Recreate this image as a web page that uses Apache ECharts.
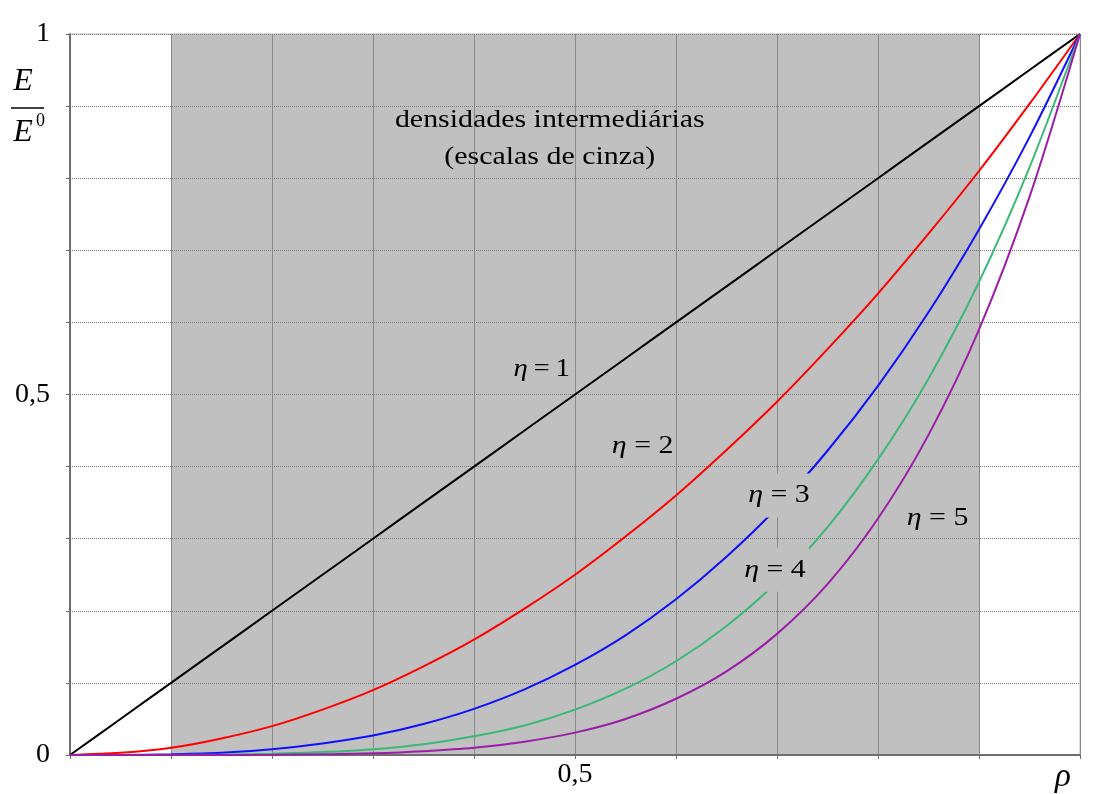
<!DOCTYPE html>
<html><head><meta charset="utf-8">
<script src="https://cdn.jsdelivr.net/npm/echarts@6/dist/echarts.min.js"></script>
<style>html,body{margin:0;padding:0;background:#fff}#c{width:1099px;height:794px}</style>
</head><body><div id="c"></div>
<script>
// ---- data ----
const rho  = [0,0.05,0.1,0.15,0.2,0.25,0.3,0.35,0.4,0.45,0.5,0.55,0.6,0.65,0.7,0.75,0.8,0.85,0.9,0.95,1];
const eta1 = [0,0.05,0.1,0.15,0.2,0.25,0.3,0.35,0.4,0.45,0.5,0.55,0.6,0.65,0.7,0.75,0.8,0.85,0.9,0.95,1];
const eta2 = [0,0.003,0.01,0.023,0.04,0.063,0.09,0.123,0.16,0.203,0.25,0.303,0.36,0.423,0.49,0.563,0.64,0.723,0.81,0.903,1];
const eta3 = [0,0.0001,0.001,0.003,0.008,0.016,0.027,0.043,0.064,0.091,0.125,0.166,0.216,0.275,0.343,0.422,0.512,0.614,0.729,0.857,1];
const eta4 = [0,0,0.0001,0.0005,0.0016,0.004,0.008,0.015,0.026,0.041,0.063,0.092,0.13,0.179,0.24,0.316,0.41,0.522,0.656,0.815,1];
const eta5 = [0,0,0,0.0001,0.0003,0.001,0.0024,0.0053,0.01,0.0185,0.031,0.05,0.078,0.116,0.168,0.237,0.328,0.444,0.59,0.774,1];
const seriesNames = ['1','2','3','4','5'];
const grayRange = [0.1, 0.9];
const xTickValues = [0.5, 1];
const xTickLabels = ['0,5', 'ρ'];
const yTickValues = [0, 0.5, 1];
const yTickLabels = ['0', '0,5', '1'];
const noteLines = ['densidades intermediárias', '(escalas de cinza)'];

// ---- styling / annotation placement ----
const colors = ['#000000', '#ff0000', '#1010ff', '#3cb878', '#9a1ea6'];
const etaAnchors = [[0.467,0.535],[0.567,0.429],[0.702,0.360],[0.698,0.257],[0.859,0.329]];
const etaBg = [false, false, true, true, false];
const etaFont = [25, 26, 26, 26, 26];
const etaSep = ['\u2009', ' ', ' ', ' ', ' '];
const noteAnchors = [[0.475,0.880],[0.475,0.829]];
const FONT = 'Liberation Serif';

const allY = [eta1, eta2, eta3, eta4, eta5];
const chart = echarts.init(document.getElementById('c'), null, {renderer: 'canvas'});

const series = [{
  type: 'line', data: [], silent: true,
  markArea: {
    z: 1, silent: true,
    itemStyle: {color: '#c0c0c0'},
    data: [[{xAxis: grayRange[0]}, {xAxis: grayRange[1]}]]
  }
}];
allY.forEach((ys, i) => {
  series.push({
    type: 'line', name: 'η = ' + seriesNames[i], z: 3,
    data: rho.map((x, k) => [x, ys[k]]),
    showSymbol: false, symbol: 'none', smooth: 0.3,
    lineStyle: {color: colors[i], width: 2},
    silent: true
  });
});

chart.setOption({
  animation: false,
  backgroundColor: '#ffffff',
  grid: {left: 70, right: 19, top: 34, bottom: 37, show: true,
         borderColor: '#b4b4b4', borderWidth: 1, backgroundColor: '#ffffff'},
  xAxis: {
    type: 'value', min: 0, max: 1, interval: 0.1, z: 2,
    axisLine: {lineStyle: {color: '#6e6e6e', width: 2}},
    axisTick: {show: true, length: 4, lineStyle: {color: '#6e6e6e', width: 1}},
    splitLine: {show: true, lineStyle: {color: '#8a8a8a', width: 1}},
    axisLabel: {
      customValues: xTickValues, showMaxLabel: true, showMinLabel: true,
      fontFamily: FONT, fontSize: 28, color: '#000', margin: 6,
      formatter: v => {
        const i = xTickValues.findIndex(t => Math.abs(t - v) < 1e-9);
        if (i < 0) return '';
        return xTickLabels[i] === 'ρ' ? '{r|ρ}' : xTickLabels[i];
      },
      rich: {r: {fontFamily: FONT, fontStyle: 'italic', fontSize: 33, padding: [0, 34, 0, 0], color: '#000'}}
    }
  },
  yAxis: {
    type: 'value', min: 0, max: 1, interval: 0.1, z: 2,
    axisLine: {show: true, lineStyle: {color: '#6e6e6e', width: 2}},
    axisTick: {show: true, length: 4, lineStyle: {color: '#6e6e6e', width: 1}},
    splitLine: {show: true, lineStyle: {color: '#7a7a7a', width: 1, type: [1, 1]}},
    axisLabel: {
      customValues: yTickValues, showMaxLabel: true, showMinLabel: true,
      fontFamily: FONT, fontSize: 28, color: '#000', margin: 20,
      formatter: v => {
        const i = yTickValues.findIndex(t => Math.abs(t - v) < 1e-9);
        return i < 0 ? '' : yTickLabels[i];
      }
    }
  },
  series: series
});

// annotations positioned through the chart's own scales
const graphics = [];
etaAnchors.forEach((p, i) => {
  const px = chart.convertToPixel({gridIndex: 0}, p);
  graphics.push({
    type: 'text', x: px[0], y: px[1], scaleX: 1.15, z: 100,
    style: {
      text: '{i|η}{n|' + etaSep[i] + '=' + etaSep[i] + seriesNames[i] + '}',
      rich: {
        i: {fontFamily: FONT, fontStyle: 'italic', fontSize: etaFont[i], fill: '#000'},
        n: {fontFamily: FONT, fontSize: etaFont[i], fill: '#000'}
      },
      fontFamily: FONT, fontSize: etaFont[i], fill: '#000',
      align: 'center', verticalAlign: 'middle',
      backgroundColor: etaBg[i] ? '#c0c0c0' : null,
      padding: etaBg[i] ? [9, 3, 9, 3] : 0
    }
  });
});
noteLines.forEach((t, i) => {
  const px = chart.convertToPixel({gridIndex: 0}, noteAnchors[i]);
  graphics.push({
    type: 'text', x: px[0], y: px[1], scaleX: 1.15, z: 100,
    style: {text: t, fontFamily: FONT, fontSize: 26, fill: '#000', align: 'center', verticalAlign: 'middle'}
  });
});
// y axis name: E / E^0
graphics.push(
  {type: 'text', x: 23, y: 82, z: 100,
   style: {text: 'E', fontFamily: FONT, fontStyle: 'italic', fontSize: 32, fill: '#000', align: 'center', verticalAlign: 'middle'}},
  {type: 'line', z: 100, shape: {x1: 11, y1: 108, x2: 44, y2: 108}, style: {stroke: '#000', lineWidth: 1.5}},
  {type: 'text', x: 23, y: 133, z: 100,
   style: {text: 'E', fontFamily: FONT, fontStyle: 'italic', fontSize: 32, fill: '#000', align: 'center', verticalAlign: 'middle'}},
  {type: 'text', x: 36, y: 121, z: 100,
   style: {text: '0', fontFamily: FONT, fontSize: 18, fill: '#000', align: 'left', verticalAlign: 'middle'}}
);
chart.setOption({graphic: graphics});
</script>
</body></html>
